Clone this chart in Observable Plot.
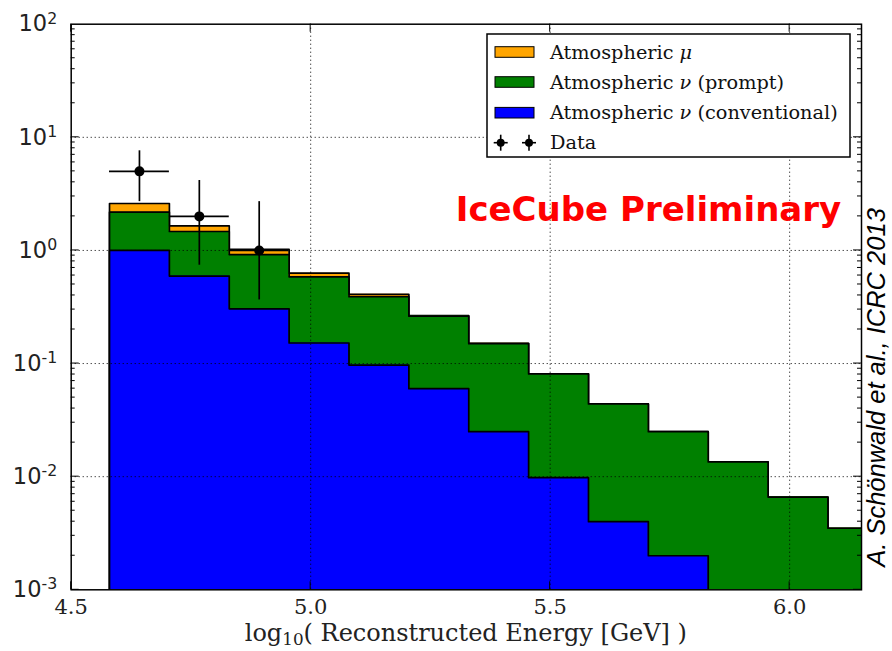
<!DOCTYPE html>
<html>
<head>
<meta charset="utf-8">
<script src="https://cdn.jsdelivr.net/npm/d3@7"></script>
<script src="https://cdn.jsdelivr.net/npm/@observablehq/plot@0.6"></script>
<style>
  body { margin: 0; background: #fff; }
  #chart { width: 892px; height: 651px; }
</style>
</head>
<body>
<div id="chart"></div>
<script>
// ---- data ----
const binEdges = [4.58, 4.705, 4.83, 4.955, 5.08, 5.205, 5.33, 5.455, 5.58, 5.705, 5.83, 5.955, 6.08, 6.205];
const conventional = [1.00, 0.593, 0.305, 0.152, 0.097, 0.060, 0.025, 0.0098, 0.0040, 0.0020, 0, 0, 0];
const promptNu     = [1.18, 0.877, 0.615, 0.433, 0.293, 0.202, 0.125, 0.0712, 0.040, 0.023, 0.0135, 0.0066, 0.0035];
const muon         = [0.42, 0.18, 0.10, 0.045, 0.02, 0.004, 0.001, 0, 0, 0, 0, 0, 0];
const dataX    = [4.6425, 4.7675, 4.8925];
const dataY    = [5.0, 2.0, 1.0];
const dataLow  = [2.7, 0.74, 0.365];
const dataHigh = [7.6, 4.15, 2.7];
const xTicks = [4.5, 5.0, 5.5, 6.0];
const xTickLabels = ["4.5", "5.0", "5.5", "6.0"];
const yTicks = [1e-3, 1e-2, 1e-1, 1e0, 1e1, 1e2];
const yTickLabels = ["10^-3", "10^-2", "10^-1", "10^0", "10^1", "10^2"];
const seriesNames = ["Atmospheric μ", "Atmospheric ν (prompt)", "Atmospheric ν (conventional)", "Data"];
const seriesColors = ["#ffa500", "#008000", "#0000ff", "#000000"];

// ---- derived ----
const floor = 1e-4;
const blueTop = conventional.slice();
const greenTop = conventional.map((v, i) => v + promptNu[i]);
const totalTop = greenTop.map((v, i) => v + muon[i]);
function stepPoints(tops) {
  const n = binEdges.length - 1;
  const pts = [{x: binEdges[0], y: floor}];
  tops.forEach((t, i) => pts.push({x: binEdges[i], y: Math.max(t, floor)}));
  pts.push({x: binEdges[n], y: Math.max(tops[n - 1], floor)});
  pts.push({x: binEdges[n], y: floor});
  return pts;
}
const layers = [
  {pts: stepPoints(totalTop), color: seriesColors[0]},
  {pts: stepPoints(greenTop), color: seriesColors[1]},
  {pts: stepPoints(blueTop), color: seriesColors[2]}
];
const dataPts = dataX.map((x, i) => ({x, y: dataY[i], lo: dataLow[i], hi: dataHigh[i], x1: binEdges[i], x2: binEdges[i + 1]}));

const marks = [];
for (const L of layers) {
  marks.push(Plot.areaY(L.pts, {x: "x", y1: () => floor, y2: "y", curve: "step-after", fill: L.color, clip: true}));
  marks.push(Plot.line(L.pts, {x: "x", y: "y", curve: "step-after", stroke: "black", strokeWidth: 1.7, clip: true}));
}
marks.push(
  Plot.gridX([5.0, 5.5, 6.0], {stroke: "black", strokeOpacity: 1, strokeWidth: 1, strokeDasharray: "1,3"}),
  Plot.gridY([1e-2, 1e-1, 1e0, 1e1], {stroke: "black", strokeOpacity: 1, strokeWidth: 1, strokeDasharray: "1,3"}),
  Plot.ruleX(dataPts, {x: "x", y1: "lo", y2: "hi", stroke: "black", strokeWidth: 1.7}),
  Plot.ruleY(dataPts, {y: "y", x1: "x1", x2: "x2", stroke: "black", strokeWidth: 1.7}),
  Plot.dot(dataPts, {x: "x", y: "y", r: 5, fill: "black"}),
  Plot.axisX(xTicks, {anchor: "bottom", tickSize: 0, tickPadding: 9, label: null,
    tickFormat: d => xTickLabels[xTicks.indexOf(d)], fontSize: 21, fontFamily: "DejaVu Serif", fill: "#222"}),
  Plot.axisY(yTicks, {anchor: "left", tickSize: 0, tickPadding: 14, label: null,
    tickFormat: d => yTickLabels[yTicks.indexOf(d)], fontSize: 22.5, fontFamily: "DejaVu Sans", fill: "#222"}),
  Plot.frame({stroke: "black", strokeWidth: 1.5})
);

const plot = Plot.plot({
  width: 892, height: 651,
  marginLeft: 70.7, marginRight: 31, marginTop: 23.7, marginBottom: 61.7,
  x: {domain: [4.5, 6.15], label: null},
  y: {type: "log", domain: [1e-3, 1e2], label: null},
  style: {background: "white", overflow: "visible"},
  marks
});
document.getElementById("chart").appendChild(plot);

const svg = d3.select(plot);
// superscripts on y tick labels
svg.selectAll('g[aria-label="y-axis tick label"] text').each(function () {
  const t = this.textContent;
  const parts = t.split("^");
  if (parts.length === 2) {
    const s = d3.select(this);
    s.text(parts[0]);
    s.append("tspan").attr("dy", "-0.5em").attr("font-size", "0.7em").text(parts[1]);
  }
});

const sx = plot.scale("x"), sy = plot.scale("y");
const [xL, xR] = sx.range;
const [yB, yT] = sy.range;
// inward ticks on all four sides
const tg = svg.append("g").attr("stroke", "black").attr("stroke-width", 1);
for (const v of xTicks) {
  const px = sx.apply(v);
  tg.append("line").attr("x1", px).attr("x2", px).attr("y1", yB).attr("y2", yB - 8);
  tg.append("line").attr("x1", px).attr("x2", px).attr("y1", yT).attr("y2", yT + 8);
}
for (let e = -3; e <= 1; e++) {
  for (let k = 1; k <= 9; k++) {
    const v = k * Math.pow(10, e);
    const py = sy.apply(v);
    const len = k === 1 ? 8 : 4;
    tg.append("line").attr("x1", xL).attr("x2", xL + len).attr("y1", py).attr("y2", py);
    tg.append("line").attr("x1", xR).attr("x2", xR - len).attr("y1", py).attr("y2", py);
  }
}

// x axis title with subscript
const xt = svg.append("text")
  .attr("x", (xL + xR) / 2).attr("y", 641)
  .attr("text-anchor", "middle")
  .attr("font-family", "DejaVu Serif").attr("font-size", 24).attr("fill", "#222");
xt.append("tspan").text("log");
xt.append("tspan").attr("dy", "0.25em").attr("font-size", "0.7em").text("10");
xt.append("tspan").attr("dy", "-0.175em").text("( Reconstructed Energy [GeV] )");

// IceCube Preliminary
svg.append("text").attr("x", 648.5).attr("y", 221).attr("text-anchor", "middle")
  .attr("font-family", "DejaVu Sans").attr("font-weight", "bold").attr("font-size", 34)
  .attr("fill", "#ff0000").text("IceCube Preliminary");

// citation (rotated)
svg.append("text").attr("transform", "translate(885,387.5) rotate(-90)")
  .attr("text-anchor", "middle")
  .attr("font-family", "Liberation Sans").attr("font-style", "italic").attr("font-size", 25.5)
  .attr("fill", "black").text("A. Schönwald et al., ICRC 2013");

// legend
const lg = svg.append("g").attr("text-anchor", "start");
lg.append("rect").attr("x", 487).attr("y", 34).attr("width", 363).attr("height", 123)
  .attr("fill", "white").attr("stroke", "black").attr("stroke-width", 1.5);
const rowY = [52, 82, 112.7, 142.7];
for (let i = 0; i < 3; i++) {
  lg.append("rect").attr("x", 495).attr("y", rowY[i] - 5.3).attr("width", 39).attr("height", 10.6)
    .attr("fill", seriesColors[i]).attr("stroke", "black").attr("stroke-width", 1);
}
// data glyph
for (const cx of [500.7, 529]) {
  lg.append("line").attr("x1", cx - 7).attr("x2", cx + 7).attr("y1", rowY[3]).attr("y2", rowY[3]).attr("stroke", "black").attr("stroke-width", 1.6);
  lg.append("line").attr("x1", cx).attr("x2", cx).attr("y1", rowY[3] - 8).attr("y2", rowY[3] + 8).attr("stroke", "black").attr("stroke-width", 1.6);
  lg.append("circle").attr("cx", cx).attr("cy", rowY[3]).attr("r", 4).attr("fill", "black");
}
seriesNames.forEach((name, i) => {
  const t = lg.append("text").attr("x", 550).attr("y", rowY[i] + 6.5)
    .attr("text-anchor", "start")
    .attr("font-family", "DejaVu Serif").attr("font-size", 19.3).attr("fill", "#111");
  const m = name.match(/^(.*?)([μν])(.*)$/);
  if (m) {
    t.append("tspan").text(m[1]);
    t.append("tspan").attr("font-style", "italic").text(m[2]);
    t.append("tspan").text(m[3]);
  } else {
    t.text(name);
  }
});
</script>
</body>
</html>
